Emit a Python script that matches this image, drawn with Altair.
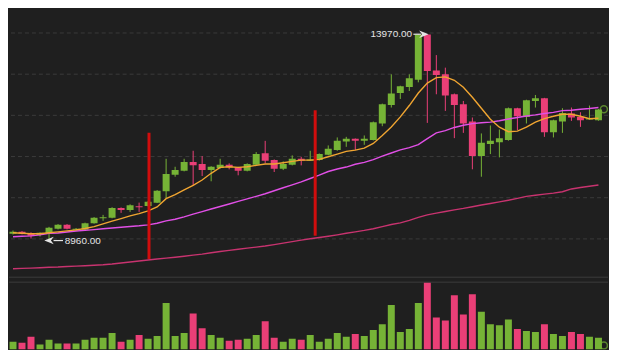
import altair as alt
import pandas as pd

# ---------------- data ----------------
idx = list(range(66))
opens = [9124, 9172, 9141, 9092, 9141, 9245, 9342, 9222, 9220, 9383,
         9500, 9511, 9753, 9705, 9795, 9801, 9881, 10157, 10559, 10656,
         10866, 10818, 10672, 10721, 10801, 10738, 10656, 10801, 11077, 10914,
         10704, 10801, 10946, 10900, 10914, 11043, 11157, 11367, 11430, 11382,
         11399, 11803, 12253, 12543, 12688, 12867, 13964, 13092, 12996, 12512,
         12270, 11851, 11011, 11302, 11350, 11399, 12173, 11962, 12350, 12415,
         11592, 11851, 12045, 11962, 11900, 11883]
highs = [9204, 9190, 9160, 9160, 9293, 9360, 9360, 9265, 9395, 9530,
         9584, 9770, 9765, 9840, 9881, 9920, 10185, 10946, 10752, 10946,
         11140, 11011, 10765, 10946, 10835, 10750, 10835, 11108, 11381, 10930,
         10883, 11028, 10994, 11140, 11075, 11270, 11464, 11478, 11440, 11512,
         11850, 12285, 12996, 12720, 12996, 13970, 13970, 13463, 13158, 12530,
         12350, 11948, 11561, 11754, 11657, 12190, 12185, 12380, 12495, 12425,
         11895, 12173, 12190, 12076, 12238, 12155]
lows = [9107, 9110, 9010, 9058, 8960, 9230, 9230, 9205, 9205, 9370,
        9438, 9500, 9632, 9656, 9656, 9785, 9870, 9978, 10510, 10640,
        10302, 10527, 10399, 10705, 10689, 10544, 10640, 10785, 10835, 10624,
        10672, 10785, 10786, 10895, 10900, 11030, 11140, 11236, 11157, 11285,
        11390, 11737, 12190, 12398, 12592, 12802, 11817, 12512, 12108, 11447,
        11575, 10690, 10510, 11060, 10980, 11385, 11640, 11803, 12190, 11478,
        11464, 11575, 11866, 11720, 11895, 11870]
closes = [9172, 9124, 9075, 9148, 9269, 9342, 9245, 9246, 9383, 9511,
          9525, 9753, 9705, 9818, 9770, 9905, 10172, 10576, 10672, 10866,
          10786, 10672, 10752, 10801, 10738, 10656, 10818, 11060, 10898, 10704,
          10818, 10946, 10898, 10926, 11060, 11188, 11382, 11430, 11382, 11430,
          11834, 12270, 12529, 12705, 12899, 13964, 13076, 12979, 12480, 12253,
          11803, 11011, 11333, 11382, 11447, 12173, 11979, 12367, 12415, 11592,
          11883, 12059, 11948, 11883, 11926, 12141]
volumes = [800, 700, 1300, 500, 1000, 600, 600, 600, 1000, 1200,
           1200, 1700, 800, 1000, 1500, 1100, 1400, 4800, 1400, 1700,
           3700, 2200, 1500, 1200, 900, 1000, 1100, 1500, 2900, 1200,
           800, 1100, 1000, 1500, 800, 1100, 1700, 1300, 1600, 1400,
           2000, 2600, 4600, 1800, 2100, 4800, 6900, 3300, 3000, 5600,
           3600, 5700, 3900, 2600, 2500, 3100, 2100, 1900, 1800, 2600,
           1600, 1400, 1800, 1600, 1300, 1200]
ma_short = [9148, 9136, 9124, 9124, 9148, 9172, 9196, 9220, 9252, 9300,
            9366, 9431, 9494, 9559, 9615, 9680, 9777, 9978, 10075, 10188,
            10302, 10431, 10593, 10738, 10752, 10738, 10752, 10786, 10818, 10818,
            10849, 10883, 10914, 10914, 10931, 10994, 11060, 11125, 11157, 11205,
            11319, 11512, 11718, 11962, 12238, 12543, 12785, 12916, 12935, 12851,
            12681, 12439, 12173, 11907, 11713, 11604, 11616, 11713, 11834, 11919,
            11979, 12028, 12028, 11979, 11919, 11931]
ma_mid = [9051, 9063, 9075, 9099, 9136, 9143, 9167, 9191, 9206, 9225,
          9247, 9264, 9283, 9303, 9320, 9342, 9380, 9438, 9477, 9535,
          9601, 9664, 9726, 9787, 9847, 9910, 9971, 10034, 10097, 10169,
          10242, 10314, 10387, 10467, 10547, 10636, 10697, 10745, 10813, 10859,
          10924, 11009, 11086, 11161, 11217, 11289, 11435, 11575, 11628, 11706,
          11761, 11800, 11822, 11837, 11870, 11912, 11948, 11984, 12011, 12045,
          12071, 12115, 12125, 12149, 12166, 12190]
ma_long = [8274, 8284, 8291, 8301, 8311, 8318, 8330, 8340, 8349, 8361,
           8371, 8390, 8414, 8439, 8463, 8487, 8511, 8533, 8555, 8579,
           8606, 8632, 8664, 8695, 8722, 8749, 8775, 8802, 8828, 8862,
           8898, 8935, 8971, 9003, 9034, 9066, 9099, 9136, 9172, 9206,
           9247, 9300, 9349, 9390, 9450, 9523, 9583, 9627, 9666, 9705,
           9741, 9782, 9823, 9860, 9898, 9939, 9983, 10034, 10060, 10087,
           10111, 10145, 10213, 10247, 10278, 10310]
grid_levels = [9000, 10000, 11000, 12000, 13000, 14000]
marker_x = [15.1, 33.55]
marker_top = [11575, 12125]
marker_bottom = [8512, 9075]
label_hi = "13970.00"
label_lo = "8960.00"
value_hi = 13970
value_lo = 8960

# ---------------- styling ----------------
BG = "#1f1f1f"
GRID = "#3a3a3a"
GREEN = "#76b336"
PINK = "#ea3f77"
ORANGE = "#f0a531"
MAGENTA = "#e14fe6"
CRIMSON = "#c8336f"
RED = "#d10d0d"
TXT = "#e4e4e4"

W = 601
PH = 270
VH = 68

df = pd.DataFrame({"i": idx, "open": opens, "high": highs, "low": lows,
                   "close": closes, "vol": volumes,
                   "ma_s": ma_short, "ma_m": ma_mid, "ma_l": ma_long})
df["dir"] = ["up" if c >= o else "down" for o, c in zip(opens, closes)]

xs = alt.Scale(domain=[0.109, 65.506], nice=False, zero=False)
ys = alt.Scale(domain=[8058.9, 14593], nice=False, zero=False)
cs = alt.Scale(domain=["up", "down"], range=[GREEN, PINK])

X = alt.X("i:Q", scale=xs, axis=None)
base = alt.Chart(df)

grid = alt.Chart(pd.DataFrame({"g": grid_levels})).mark_rule(
    strokeDash=[4, 3], color=GRID, strokeWidth=1
).encode(y=alt.Y("g:Q", scale=ys, axis=None))

wicks = base.mark_rule(strokeWidth=1, clip=True).encode(
    x=X, y=alt.Y("low:Q", scale=ys, axis=None), y2="high:Q",
    color=alt.Color("dir:N", scale=cs, legend=None))
bodies = base.mark_bar(size=7, clip=True).encode(
    x=X, y=alt.Y("open:Q", scale=ys, axis=None), y2="close:Q",
    color=alt.Color("dir:N", scale=cs, legend=None))

def ma_line(field, color):
    return base.mark_line(color=color, strokeWidth=1.4, clip=True).encode(
        x=X, y=alt.Y(f"{field}:Q", scale=ys, axis=None))

line_l = ma_line("ma_l", CRIMSON)
line_m = ma_line("ma_m", MAGENTA)
line_s = ma_line("ma_s", ORANGE)

marks_df = pd.DataFrame({"x": marker_x, "top": marker_top, "bot": marker_bottom})
markers = alt.Chart(marks_df).mark_rule(color=RED, strokeWidth=3, clip=True).encode(
    x=alt.X("x:Q", scale=xs, axis=None),
    y=alt.Y("bot:Q", scale=ys, axis=None), y2="top:Q")

ann_df = pd.DataFrame({
    "tx": [44.3, 5.75], "ax1": [44.45, 5.55], "ax2": [45.3, 4.5],
    "tip": [45.62, 4.0], "y": [value_hi, value_lo],
    "label": [label_hi, label_lo], "side": ["hi", "lo"]})
arrow_lines = alt.Chart(ann_df).mark_rule(color=TXT, strokeWidth=1.2).encode(
    x=alt.X("ax1:Q", scale=xs, axis=None), x2="ax2:Q",
    y=alt.Y("y:Q", scale=ys, axis=None))
RIGHT_HEAD = "M1,0 L-1,-0.8 L-0.4,0 L-1,0.8 Z"
LEFT_HEAD = "M-1,0 L1,-0.8 L0.4,0 L1,0.8 Z"
head_hi = alt.Chart(ann_df).transform_filter(alt.datum.side == "hi").mark_point(
    shape=RIGHT_HEAD, size=90, filled=True, color=TXT, opacity=1).encode(
    x=alt.X("tip:Q", scale=xs, axis=None), y=alt.Y("y:Q", scale=ys, axis=None))
head_lo = alt.Chart(ann_df).transform_filter(alt.datum.side == "lo").mark_point(
    shape=LEFT_HEAD, size=90, filled=True, color=TXT, opacity=1).encode(
    x=alt.X("tip:Q", scale=xs, axis=None), y=alt.Y("y:Q", scale=ys, axis=None))
text_hi = alt.Chart(ann_df).transform_filter(alt.datum.side == "hi").mark_text(
    align="right", baseline="middle", font="Liberation Sans", fontSize=10, color=TXT).encode(
    x=alt.X("tx:Q", scale=xs, axis=None), y=alt.Y("y:Q", scale=ys, axis=None), text="label:N")
text_lo = alt.Chart(ann_df).transform_filter(alt.datum.side == "lo").mark_text(
    align="left", baseline="middle", font="Liberation Sans", fontSize=10, color=TXT).encode(
    x=alt.X("tx:Q", scale=xs, axis=None), y=alt.Y("y:Q", scale=ys, axis=None), text="label:N")

edge_df = pd.DataFrame({"x": [65.6], "y": [12149], "v": [400]})
edge_price = alt.Chart(edge_df).mark_point(
    shape="circle", size=50, filled=False, color=GREEN, strokeWidth=1.5, clip=True).encode(
    x=alt.X("x:Q", scale=xs, axis=None), y=alt.Y("y:Q", scale=ys, axis=None))

sep_price = alt.Chart(pd.DataFrame({"k": [0]})).mark_rule(color="#3c3c3c", strokeWidth=1).encode(
    x=alt.value(0), x2=alt.value(W), y=alt.value(PH - 0.5))

price = alt.layer(
    grid, wicks, bodies, line_l, line_m, line_s, markers,
    arrow_lines, head_hi, head_lo, text_hi, text_lo, edge_price, sep_price
).properties(width=W, height=PH)

vs = alt.Scale(domain=[0, 7000], nice=False, zero=True)
vol_bars = base.mark_bar(size=7, clip=True).encode(
    x=X, y=alt.Y("vol:Q", scale=vs, axis=None),
    color=alt.Color("dir:N", scale=cs, legend=None))
sep_vol = alt.Chart(pd.DataFrame({"k": [0]})).mark_rule(color="#3c3c3c", strokeWidth=1).encode(
    x=alt.value(0), x2=alt.value(W), y=alt.value(0.5))
edge_vol = alt.Chart(edge_df).mark_point(
    shape="circle", size=50, filled=False, color=GREEN, strokeWidth=1.5, clip=True).encode(
    x=alt.X("x:Q", scale=xs, axis=None), y=alt.Y("v:Q", scale=vs, axis=None))

volume = alt.layer(sep_vol, vol_bars, edge_vol).properties(width=W, height=VH)

chart = alt.vconcat(price, volume, spacing=4).properties(
    padding=0, background=BG
).configure_view(stroke=None)

chart.save("out.html", embed_options={"renderer": "svg", "actions": False})
